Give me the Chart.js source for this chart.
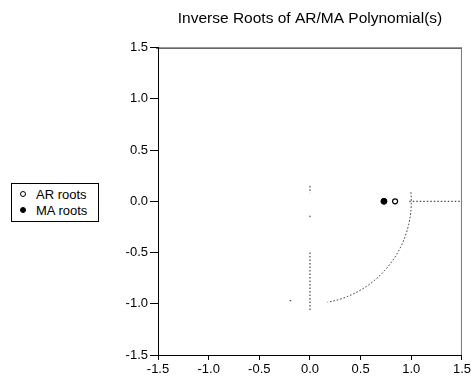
<!DOCTYPE html>
<html>
<head>
<meta charset="utf-8">
<script src="https://cdn.jsdelivr.net/npm/chart.js@4.4.0/dist/chart.umd.min.js"></script>
<style>
    body { margin: 0; background: #fff; }
    #wrap { position: relative; width: 473px; height: 383px; }
    #legend {
        position: absolute; left: 11px; top: 183px; width: 88px; height: 39px;
        border: 1px solid #000; background: #fff;
        font-family: "Liberation Sans", Arial, sans-serif; font-size: 13px; color: #000;
        box-sizing: border-box; padding: 3px 0 0 8px; line-height: 16px;
    }
    #legend .mk { display: inline-block; width: 4px; height: 4px; border-radius: 50%;
        border: 1px solid #000; margin-right: 10px; vertical-align: 2px; }
</style>
</head>
<body>
<div id="wrap">
    <canvas id="rootsChart" width="473" height="383"></canvas>
    <div id="legend">
        <div><span class="mk" style="background:#fff"></span>AR roots</div>
        <div><span class="mk" style="background:#000"></span>MA roots</div>
    </div>
</div>
<script>
// inverse roots (real, imaginary)
const arRoots = [{ x: 0.84, y: 0 }];
const maRoots = [{ x: 0.73, y: 0 }];

const axisTicks = [-1.5, -1.0, -0.5, 0.0, 0.5, 1.0, 1.5];

// faded reference lines that survive in the picture
const zeroLineH = [{ x: 0.98, y: 0 }, { x: 1.5, y: 0 }];
const zeroLineV1 = [{ x: 0, y: 0.15 }, { x: 0, y: 0.08 }];
const zeroLineV2 = [{ x: 0, y: -0.14 }, { x: 0, y: -0.155 }];
const zeroLineV3 = [{ x: 0, y: -0.5 }, { x: 0, y: -1.08 }];
const strayDot = [{ x: -0.2, y: -0.97 }, { x: -0.18, y: -0.97 }];
// visible part of the unit circle, degrees clockwise from (1,0)
const unitArc = [-5, 80];

const frameAndCircle = {
    id: 'frameAndCircle',
    afterDatasetsDraw(chart) {
        const { ctx, chartArea: a, scales: { x, y } } = chart;
        const cx = x.getPixelForValue(0);
        const cy = y.getPixelForValue(0);
        const rx = x.getPixelForValue(1) - cx;
        const ry = cy - y.getPixelForValue(1);
        ctx.save();
        ctx.strokeStyle = '#222';
        ctx.lineWidth = 1;
        ctx.setLineDash([1.5, 2]);
        ctx.beginPath();
        ctx.ellipse(cx, cy, rx, ry, 0, unitArc[0] * Math.PI / 180, unitArc[1] * Math.PI / 180);
        ctx.stroke();
        ctx.setLineDash([]);
        ctx.strokeStyle = '#000';
        ctx.beginPath();
        ctx.moveTo(a.left - 2, a.top + 0.5);
        ctx.lineTo(a.right, a.top + 0.5);
        ctx.stroke();
        ctx.strokeStyle = '#777';
        ctx.beginPath();
        ctx.moveTo(a.right - 0.5, a.top);
        ctx.lineTo(a.right - 0.5, a.bottom);
        ctx.stroke();
        ctx.restore();
    }
};

const dotted = (data) => ({
    type: 'line', data, showLine: true, pointRadius: 0, borderColor: '#222',
    borderWidth: 1, borderDash: [1.5, 2], fill: false
});

const tickFont = { family: '"Liberation Sans", Arial, sans-serif', size: 13 };

new Chart(document.getElementById('rootsChart'), {
    type: 'scatter',
    data: {
        datasets: [
            dotted(zeroLineH), dotted(zeroLineV1), dotted(zeroLineV2), dotted(zeroLineV3), dotted(strayDot),
            { label: 'AR roots', data: arRoots, pointRadius: 2.5, pointBackgroundColor: '#fff',
              pointBorderColor: '#000', pointBorderWidth: 1.2 },
            { label: 'MA roots', data: maRoots, pointRadius: 3, pointBackgroundColor: '#000',
              pointBorderColor: '#000', pointBorderWidth: 1 }
        ]
    },
    options: {
        responsive: false,
        animation: false,
        layout: { padding: { left: 0, right: 10, top: 0, bottom: 0 } },
        plugins: {
            legend: { display: false },
            tooltip: { enabled: false },
            title: {
                display: true,
                fullSize: false,
                text: 'Inverse Roots of AR/MA Polynomial(s)',
                color: '#000',
                font: { family: '"Liberation Sans", Arial, sans-serif', size: 15.5, weight: 'normal' },
                padding: { top: 9, bottom: 20 }
            }
        },
        scales: {
            x: {
                type: 'linear', min: -1.5, max: 1.5,
                afterBuildTicks: s => { s.ticks = axisTicks.map(v => ({ value: v })); },
                afterFit: s => { s.height = 28; },
                grid: { drawOnChartArea: false, drawTicks: true, tickLength: 5, color: '#000' },
                border: { display: true, color: '#000', width: 1 },
                ticks: { color: '#000', font: tickFont, padding: 2, maxRotation: 0,
                         callback: v => v.toFixed(1) }
            },
            y: {
                type: 'linear', min: -1.5, max: 1.5,
                afterBuildTicks: s => { s.ticks = axisTicks.map(v => ({ value: v })); },
                afterFit: s => { s.width = 158; },
                grid: { drawOnChartArea: false, drawTicks: true, tickLength: 8, color: '#000' },
                border: { display: true, color: '#000', width: 1 },
                ticks: { color: '#000', font: tickFont, padding: 2,
                         callback: v => v.toFixed(1) }
            }
        }
    },
    plugins: [frameAndCircle]
});
</script>
</body>
</html>
